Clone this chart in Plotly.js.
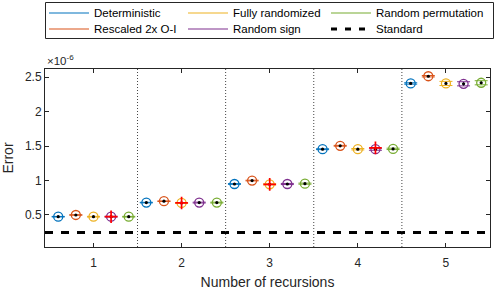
<!DOCTYPE html>
<html>
<head>
<meta charset="utf-8">
<script src="https://cdn.plot.ly/plotly-3.0.1.min.js"></script>
<style>html,body{margin:0;padding:0;background:#fff;}#chart{width:498px;height:290px;}</style>
</head>
<body>
<div id="chart"></div>
<script>
// Values in units of 1e-6
const recursions = [1, 2, 3, 4, 5];
const seriesNames = ["Deterministic", "Rescaled 2x O-I", "Fully randomized", "Random sign", "Random permutation"];
const standardName = "Standard";
const deterministic     = [0.475, 0.680, 0.950, 1.455, 2.410];
const rescaled          = [0.500, 0.700, 1.000, 1.505, 2.515];
const fullyRandomized   = [0.475, 0.675, 0.945, 1.455, 2.410];
const randomSign        = [0.475, 0.680, 0.950, 1.455, 2.405];
const randomPermutation = [0.475, 0.680, 0.955, 1.460, 2.420];
const deterministicErr     = [0.004, 0.004, 0.005, 0.006, 0.010];
const rescaledErr          = [0.004, 0.004, 0.005, 0.006, 0.010];
const fullyRandomizedErr   = [0.005, 0.006, 0.008, 0.010, 0.030];
const randomSignErr        = [0.005, 0.006, 0.008, 0.015, 0.030];
const randomPermutationErr = [0.005, 0.006, 0.008, 0.010, 0.030];
const standardError = 0.245;
// highlighted (red +) points
const plusX = [1.2, 2.0, 3.0, 4.2];
const plusY = [0.475, 0.675, 0.945, 1.475];
const yTicks = [0.5, 1, 1.5, 2, 2.5];
const yTickText = ["0.5", "1", "1.5", "2", "2.5"];

const colors = ["#0072BD", "#D95319", "#EDB120", "#7E2F8E", "#77AC30"];
const offsets = [-0.4, -0.2, 0, 0.2, 0.4];
const allSeries = [deterministic, rescaled, fullyRandomized, randomSign, randomPermutation];
const allErr = [deterministicErr, rescaledErr, fullyRandomizedErr, randomSignErr, randomPermutationErr];
const xRange = [0.45, 5.5];
const yRange = [0.035, 2.62];

const W = 498, H = 290;
const M = {l: 45, r: 8, t: 69, b: 43};
const pw = W - M.l - M.r, ph = H - M.t - M.b;
const px = v => (v - M.l) / pw;       // pixel x -> paper
const py = v => (H - M.b - v) / ph;   // pixel y -> paper

const font = "Liberation Sans, Arial, Helvetica, sans-serif";
const traces = [];

// standard line
traces.push({
  x: xRange, y: [standardError, standardError], mode: "lines",
  line: {color: "#000", width: 3, dash: "8px,8px"},
  showlegend: false, hoverinfo: "skip"
});

allSeries.forEach((s, i) => {
  const xs = recursions.map(r => r + offsets[i]);
  traces.push({
    x: xs, y: s, mode: "markers", type: "scatter", name: seriesNames[i],
    marker: {symbol: "circle-open", size: 9, color: colors[i], line: {width: 1.3, color: colors[i]}},
    error_y: {type: "data", array: allErr[i], visible: true, color: colors[i], thickness: 1, width: 6.5},
    showlegend: false
  });
  traces.push({
    x: xs, y: s, mode: "markers", type: "scatter",
    marker: {symbol: "circle", size: 3.2, color: "#000"},
    showlegend: false
  });
});

traces.push({
  x: plusX, y: plusY, mode: "markers",
  marker: {symbol: "cross-thin", size: 9, line: {width: 1.7, color: "#FF0000"}},
  showlegend: false
});

const shapes = [1.5, 2.5, 3.5, 4.5].map(v => ({
  type: "line", xref: "x", yref: "paper", x0: v, x1: v, y0: 0, y1: 1,
  line: {color: "#444", width: 1, dash: "1px,2px"}
}));

// manual legend (3 columns, column-major order like the source)
const annotations = [];
shapes.push({type: "rect", xref: "paper", yref: "paper",
  x0: px(45.5), x1: px(493.5), y0: py(2.5), y1: py(38.5),
  line: {color: "#262626", width: 1}, fillcolor: "#fff", layer: "above"});
const colX = [49, 188, 331];
const rowY = [13, 29];
const legendItems = seriesNames.map((n, i) => ({name: n, color: colors[i], width: 1.1}))
  .concat([{name: standardName, color: "#000", dash: "6px,8px", width: 3}]);
legendItems.forEach((it, k) => {
  const c = Math.floor(k / 2), r = k % 2;
  const ln = {color: it.color, width: it.width};
  if (it.dash) ln.dash = it.dash;
  shapes.push({type: "line", xref: "paper", yref: "paper",
    x0: px(colX[c]), x1: px(colX[c] + 40), y0: py(rowY[r]), y1: py(rowY[r]),
    line: ln, layer: "above"});
  annotations.push({xref: "paper", yref: "paper", x: px(colX[c] + 43), y: py(rowY[r]),
    xanchor: "left", yanchor: "middle", text: it.name, showarrow: false,
    font: {family: font, size: 11.5, color: "#000"}});
});

annotations.push({
  xref: "paper", yref: "paper", x: 0, y: 1, xanchor: "left", yanchor: "bottom",
  text: "×10<sup>-6</sup>", showarrow: false, font: {size: 11.5, color: "#262626"}, yshift: 0
});

const layout = {
  width: W, height: H,
  margin: M,
  paper_bgcolor: "#fff", plot_bgcolor: "#fff",
  font: {family: font, size: 12, color: "#262626"},
  showlegend: false,
  xaxis: {
    range: xRange, tickvals: recursions, ticktext: recursions.map(String),
    ticks: "inside", ticklen: 4, tickcolor: "#262626", mirror: "ticks",
    showline: true, linecolor: "#262626", linewidth: 1,
    showgrid: false, zeroline: false, ticklabelstandoff: 5,
    tickfont: {size: 12, color: "#262626"},
    title: {text: "Number of recursions", font: {size: 14, color: "#262626"}, standoff: 8}
  },
  yaxis: {
    range: yRange, tickvals: yTicks, ticktext: yTickText,
    ticks: "inside", ticklen: 4, tickcolor: "#262626", mirror: "ticks",
    showline: true, linecolor: "#262626", linewidth: 1,
    showgrid: false, zeroline: false,
    tickfont: {size: 12, color: "#262626"},
    title: {text: "Error", font: {size: 14, color: "#262626"}, standoff: 12}
  },
  shapes: shapes,
  annotations: annotations
};

Plotly.newPlot("chart", traces, layout, {displayModeBar: false, staticPlot: true});
</script>
</body>
</html>
